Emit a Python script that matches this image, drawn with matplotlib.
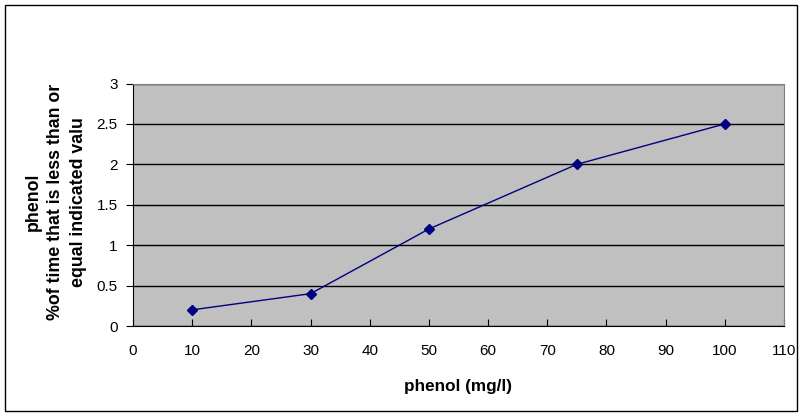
import matplotlib.pyplot as plt
from matplotlib.patches import Rectangle

# data
phenol = [10, 30, 50, 75, 100]
pct_time = [0.2, 0.4, 1.2, 2.0, 2.5]

plt.rcParams['font.family'] = ['Liberation Sans', 'DejaVu Sans']

fig = plt.figure(figsize=(8.02, 4.13), dpi=100)
ax = fig.add_axes([133 / 802, 87 / 413, 651 / 802, 242.5 / 413])
ax.set_facecolor('#c0c0c0')

ax.plot(phenol, pct_time, color='#000080', lw=1, marker='D', ms=5,
        markerfacecolor='#000080', markeredgecolor='#000080')

ax.set_xlim(0, 110)
ax.set_ylim(0, 3)
ax.set_xticks(range(0, 111, 10))
ax.set_yticks([0, 0.5, 1, 1.5, 2, 2.5, 3])
ax.set_yticklabels(['0', '0.5', '1', '1.5', '2', '2.5', '3'])
ax.yaxis.grid(True, color='black', lw=1)
ax.set_axisbelow(True)

ax.tick_params(axis='x', direction='in', length=5, labelsize=11, pad=13)
ax.tick_params(axis='y', direction='out', length=5, labelsize=11, pad=6)

for side in ['top', 'right']:
    ax.spines[side].set_color('#808080')
for side in ['left', 'bottom']:
    ax.spines[side].set_color('black')

fig.text(458 / 802, (413 - 386) / 413, 'phenol (mg/l)', fontsize=12.3,
         fontweight='bold', ha='center', va='center')
fig.text(56 / 802, (413 - 202) / 413,
         'phenol\n%of time that is less than or\nequal indicated valu',
         fontsize=12.8, fontweight='bold', linespacing=1.45, rotation=90,
         ha='center', va='center', multialignment='center')

# outer chart border
fig.patches.append(Rectangle((5 / 802, 2 / 413), 792 / 802, 406 / 413,
                             transform=fig.transFigure, fill=False,
                             edgecolor='black', lw=1))

fig.savefig('out.png', dpi=100)
